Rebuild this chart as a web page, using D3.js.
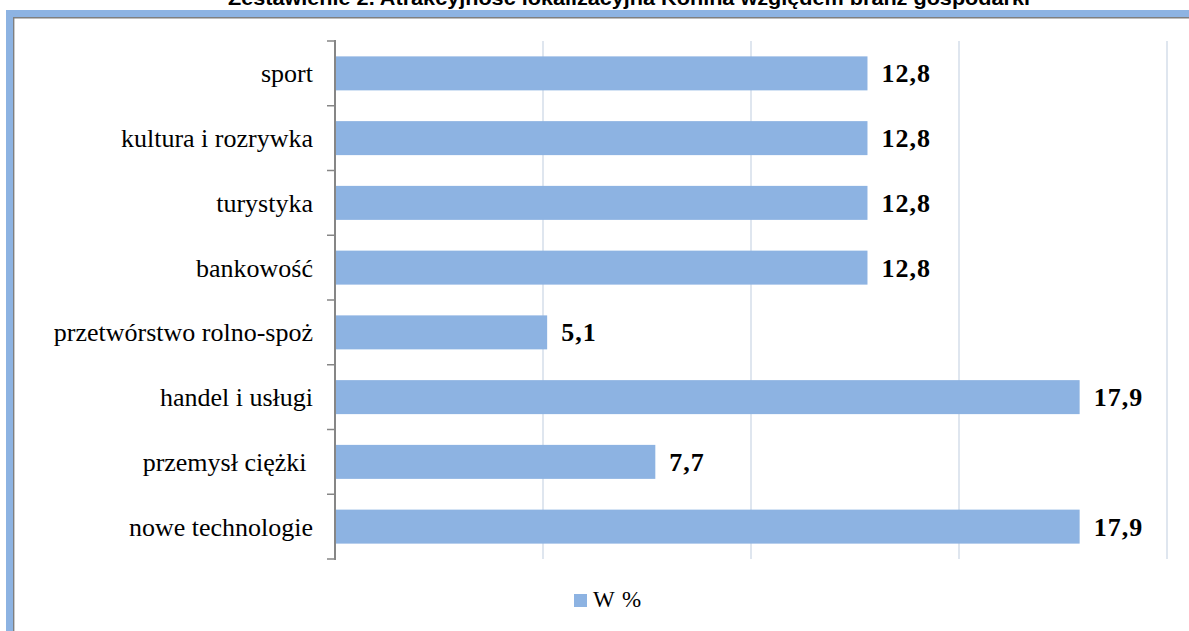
<!DOCTYPE html>
<html><head><meta charset="utf-8">
<script src="https://cdn.jsdelivr.net/npm/d3@7"></script>
<style>body{margin:0;background:#fff}svg{display:block}</style>
</head><body>
<svg id="c" width="1189" height="631"></svg>
<script>
const title = "Zestawienie 2. Atrakcyjność lokalizacyjna Konina względem branż gospodarki";
const categories = ["sport","kultura i rozrywka","turystyka","bankowość","przetwórstwo rolno-spoż","handel i usługi","przemysł ciężki ","nowe technologie"];
const values = [12.8,12.8,12.8,12.8,5.1,17.9,7.7,17.9];
const xTicks = [0,5,10,15,20];
const seriesName = "W %";

const svg = d3.select("#c");
const blue = "#8DB3E2";
// frame
svg.append("rect").attr("x",6).attr("y",10).attr("width",1183).attr("height",7).attr("fill",blue);
svg.append("rect").attr("x",6).attr("y",10).attr("width",7).attr("height",621).attr("fill",blue);
svg.append("line").attr("x1",13).attr("x2",1189).attr("y1",17.7).attr("y2",17.7).attr("stroke","#7f7f7f").attr("stroke-width",1.4);
svg.append("line").attr("x1",13.7).attr("x2",13.7).attr("y1",17).attr("y2",631).attr("stroke","#7f7f7f").attr("stroke-width",1.4);

svg.append("text").attr("x",629).attr("y",5).attr("text-anchor","middle")
  .attr("font-family","Liberation Sans, Arial, sans-serif").attr("font-weight","bold").attr("font-size",20)
  .attr("textLength",802).attr("lengthAdjust","spacingAndGlyphs").text(title);

const plotTop = 41, plotBottom = 559;
const x = d3.scaleLinear().domain([0,20]).range([335,1167]);
const y = d3.scaleBand().domain(categories).range([plotTop,plotBottom]).paddingInner(0.475).paddingOuter(0.2375);

// grid
svg.append("g").selectAll("line").data(xTicks.slice(1)).join("line")
  .attr("x1",d=>x(d)).attr("x2",d=>x(d)).attr("y1",plotTop).attr("y2",plotBottom)
  .attr("stroke","#D5DEEA").attr("stroke-width",1.5);

// bars
svg.append("g").selectAll("rect").data(values).join("rect")
  .attr("x",x(0)).attr("y",(d,i)=>y(categories[i])).attr("width",d=>x(d)-x(0)).attr("height",y.bandwidth()).attr("fill",blue);

// axis
const step = y.step();
const bounds = d3.range(categories.length+1).map(i=>plotTop+i*step);
svg.append("g").selectAll("line").data(bounds).join("line")
  .attr("x1",327).attr("x2",335).attr("y1",d=>d).attr("y2",d=>d).attr("stroke","#868686").attr("stroke-width",1.5);
svg.append("line").attr("x1",335).attr("x2",335).attr("y1",plotTop-1).attr("y2",plotBottom+1).attr("stroke","#868686").attr("stroke-width",2);

svg.append("g").selectAll("text").data(categories).join("text")
  .attr("x",313).attr("y",d=>y(d)+y.bandwidth()/2).attr("dy","0.35em").attr("text-anchor","end")
  .attr("font-family","Liberation Serif, Times New Roman, serif").attr("font-size",26).attr("fill","#000")
  .style("white-space","pre").text(d=>d);

// value labels
svg.append("g").selectAll("text").data(values).join("text")
  .attr("x",d=>x(d)+14).attr("y",(d,i)=>y(categories[i])+y.bandwidth()/2).attr("dy","0.35em")
  .attr("font-family","Liberation Serif, Times New Roman, serif").attr("font-size",26).attr("font-weight","bold")
  .attr("letter-spacing",1)
  .text(d=>d.toFixed(1).replace(".",","));

// legend
svg.append("rect").attr("x",574).attr("y",594).attr("width",13).attr("height",13).attr("fill",blue);
svg.append("text").attr("x",593).attr("y",607).attr("font-family","Liberation Serif, Times New Roman, serif").attr("font-size",23)
  .attr("letter-spacing",1).style("white-space","pre").text(seriesName);
</script>
</body></html>
